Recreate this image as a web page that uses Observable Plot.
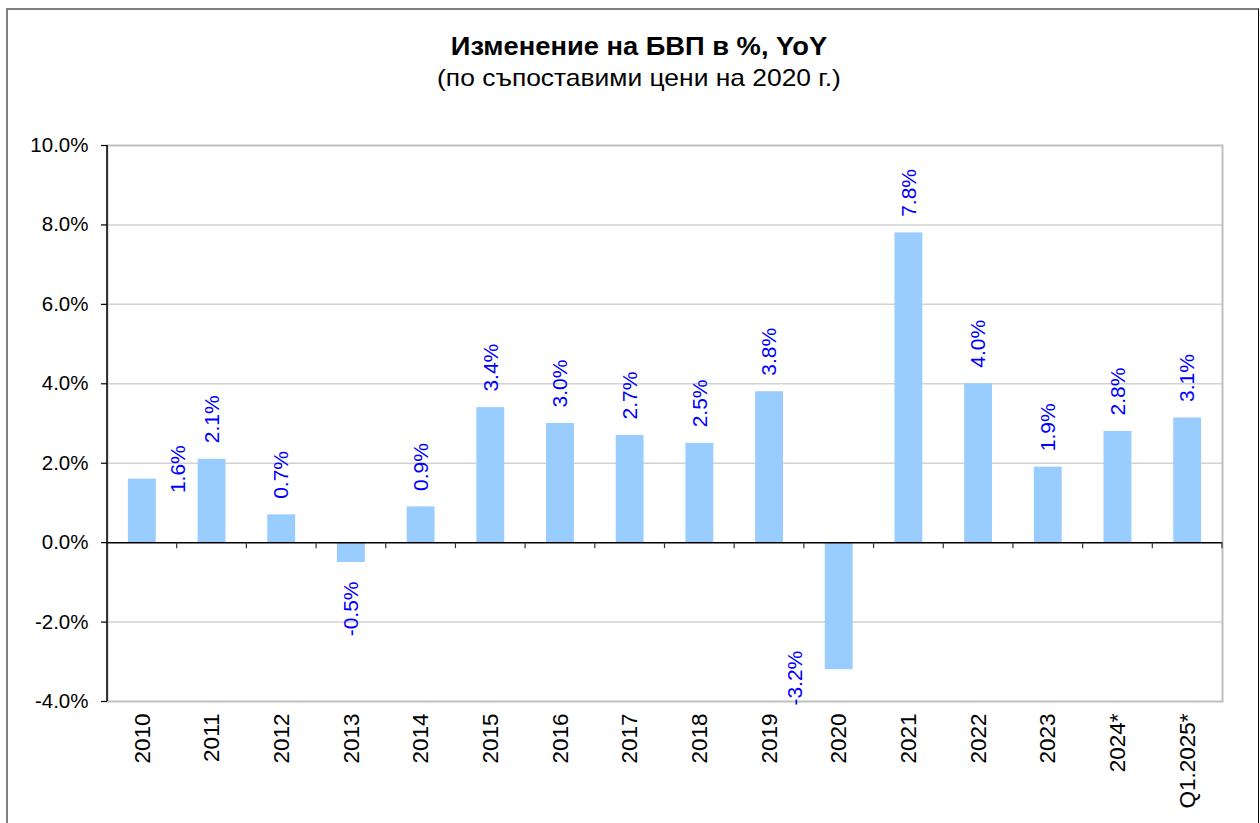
<!DOCTYPE html>
<html>
<head>
<meta charset="utf-8">
<script src="https://cdn.jsdelivr.net/npm/d3@7"></script>
<script src="https://cdn.jsdelivr.net/npm/@observablehq/plot@0.6"></script>
<style>
  html, body { margin: 0; padding: 0; background: #fff; }
  #wrap { position: relative; width: 1260px; height: 823px; overflow: hidden; background: #fff; font-family: "Liberation Sans", Arial, sans-serif; color: #000; }
  #chart { position: absolute; left: 0; top: 0; }
  .hd { position: absolute; left: 0; width: 1278px; text-align: center; white-space: nowrap; }
  #title { top: 31px; font-size: 26px; line-height: 30px; font-weight: bold; transform: scaleX(1.05); transform-origin: 639px 0; }
  #subtitle { top: 64px; font-size: 24px; line-height: 28px; transform: scaleX(1.1); transform-origin: 639px 0; }
  #border { position: absolute; left: 6px; top: 8px; width: 1250px; height: 900px; border-left: 2px solid #7f7f7f; border-top: 2px solid #7f7f7f; border-right: 1px solid #000; pointer-events: none; }
</style>
</head>
<body>
<div id="wrap">
  <div id="chart"></div>
  <div id="title" class="hd">Изменение на БВП в %, YoY</div>
  <div id="subtitle" class="hd">(по съпоставими цени на 2020 г.)</div>
  <div id="border"></div>
</div>
<script>
const categories = ["2010", "2011", "2012", "2013", "2014", "2015", "2016", "2017", "2018", "2019", "2020", "2021", "2022", "2023", "2024*", "Q1.2025*"];
const values = [1.6, 2.1, 0.7, -0.5, 0.9, 3.4, 3.0, 2.7, 2.5, 3.8, -3.2, 7.8, 4.0, 1.9, 2.8, 3.14];
const yTicks = [-4, -2, 0, 2, 4, 6, 8, 10];

const rows = categories.map((cat, i) => ({cat, value: values[i]}));
const fmt = v => v.toFixed(1) + "%";
const shifted = new Set(["2010", "2020"]);

const W = 1260, H = 823, ML = 107, MR = 38, MT = 145, MB = 122;

const axisDecor = (index, scales, values, dims) => {
  const g = d3.create("svg:g");
  const y0 = scales.y(0);
  const step = (dims.width - dims.marginLeft - dims.marginRight) / categories.length;
  g.append("line")
    .attr("x1", dims.marginLeft).attr("x2", dims.marginLeft)
    .attr("y1", dims.marginTop).attr("y2", dims.height - dims.marginBottom)
    .attr("stroke", "#000").attr("stroke-width", 1.5);
  for (let k = 0; k <= categories.length; k++) {
    const x = dims.marginLeft + k * step;
    g.append("line")
      .attr("x1", x).attr("x2", x)
      .attr("y1", y0).attr("y2", y0 + 6)
      .attr("stroke", "#333").attr("stroke-width", 1.2);
  }
  return g.node();
};

const labelStyle = {x: "cat", y: "value", text: d => fmt(d.value), rotate: -90, lineAnchor: "middle", fontSize: 21, fill: "#0000ff"};

const chart = Plot.plot({
  width: W,
  height: H,
  marginLeft: ML,
  marginRight: MR,
  marginTop: MT,
  marginBottom: MB,
  style: {background: "transparent", color: "#000", fontFamily: "'Liberation Sans', Arial, sans-serif"},
  x: {type: "band", domain: categories, paddingInner: 0.6, paddingOuter: 0.3, round: false, axis: null},
  y: {domain: [-4, 10], axis: null},
  marks: [
    Plot.gridY(yTicks.filter(t => t !== 0 && t !== 10 && t !== -4), {stroke: "#d2d2d2", strokeOpacity: 1, strokeWidth: 1.5}),
    Plot.frame({stroke: "#c0c0c0", strokeWidth: 2}),
    Plot.barY(rows, {x: "cat", y: "value", fill: "#99ccff"}),
    Plot.ruleY([0], {stroke: "#000", strokeWidth: 1.5}),
    axisDecor,
    Plot.axisY({ticks: yTicks, tickFormat: fmt, label: null, tickSize: 6, tickPadding: 13, fontSize: 20.5, stroke: "#000", strokeWidth: 1.2}),
    Plot.text(categories, {x: d => d, frameAnchor: "bottom", rotate: -90, textAnchor: "end", lineAnchor: "middle", dy: 12, fontSize: 22.5, fill: "#000"}),
    Plot.text(rows, {...labelStyle, filter: d => d.value >= 0 && !shifted.has(d.cat), textAnchor: "start", dy: -16}),
    Plot.text(rows, {...labelStyle, filter: d => d.value < 0 && !shifted.has(d.cat), textAnchor: "end", dy: 19}),
    Plot.text(rows, {...labelStyle, filter: d => d.cat === "2010", textAnchor: "start", dx: 36, dy: 14}),
    Plot.text(rows, {...labelStyle, filter: d => d.cat === "2020", textAnchor: "end", dx: -44, dy: -19})
  ]
});
document.getElementById("chart").appendChild(chart);
</script>
</body>
</html>
